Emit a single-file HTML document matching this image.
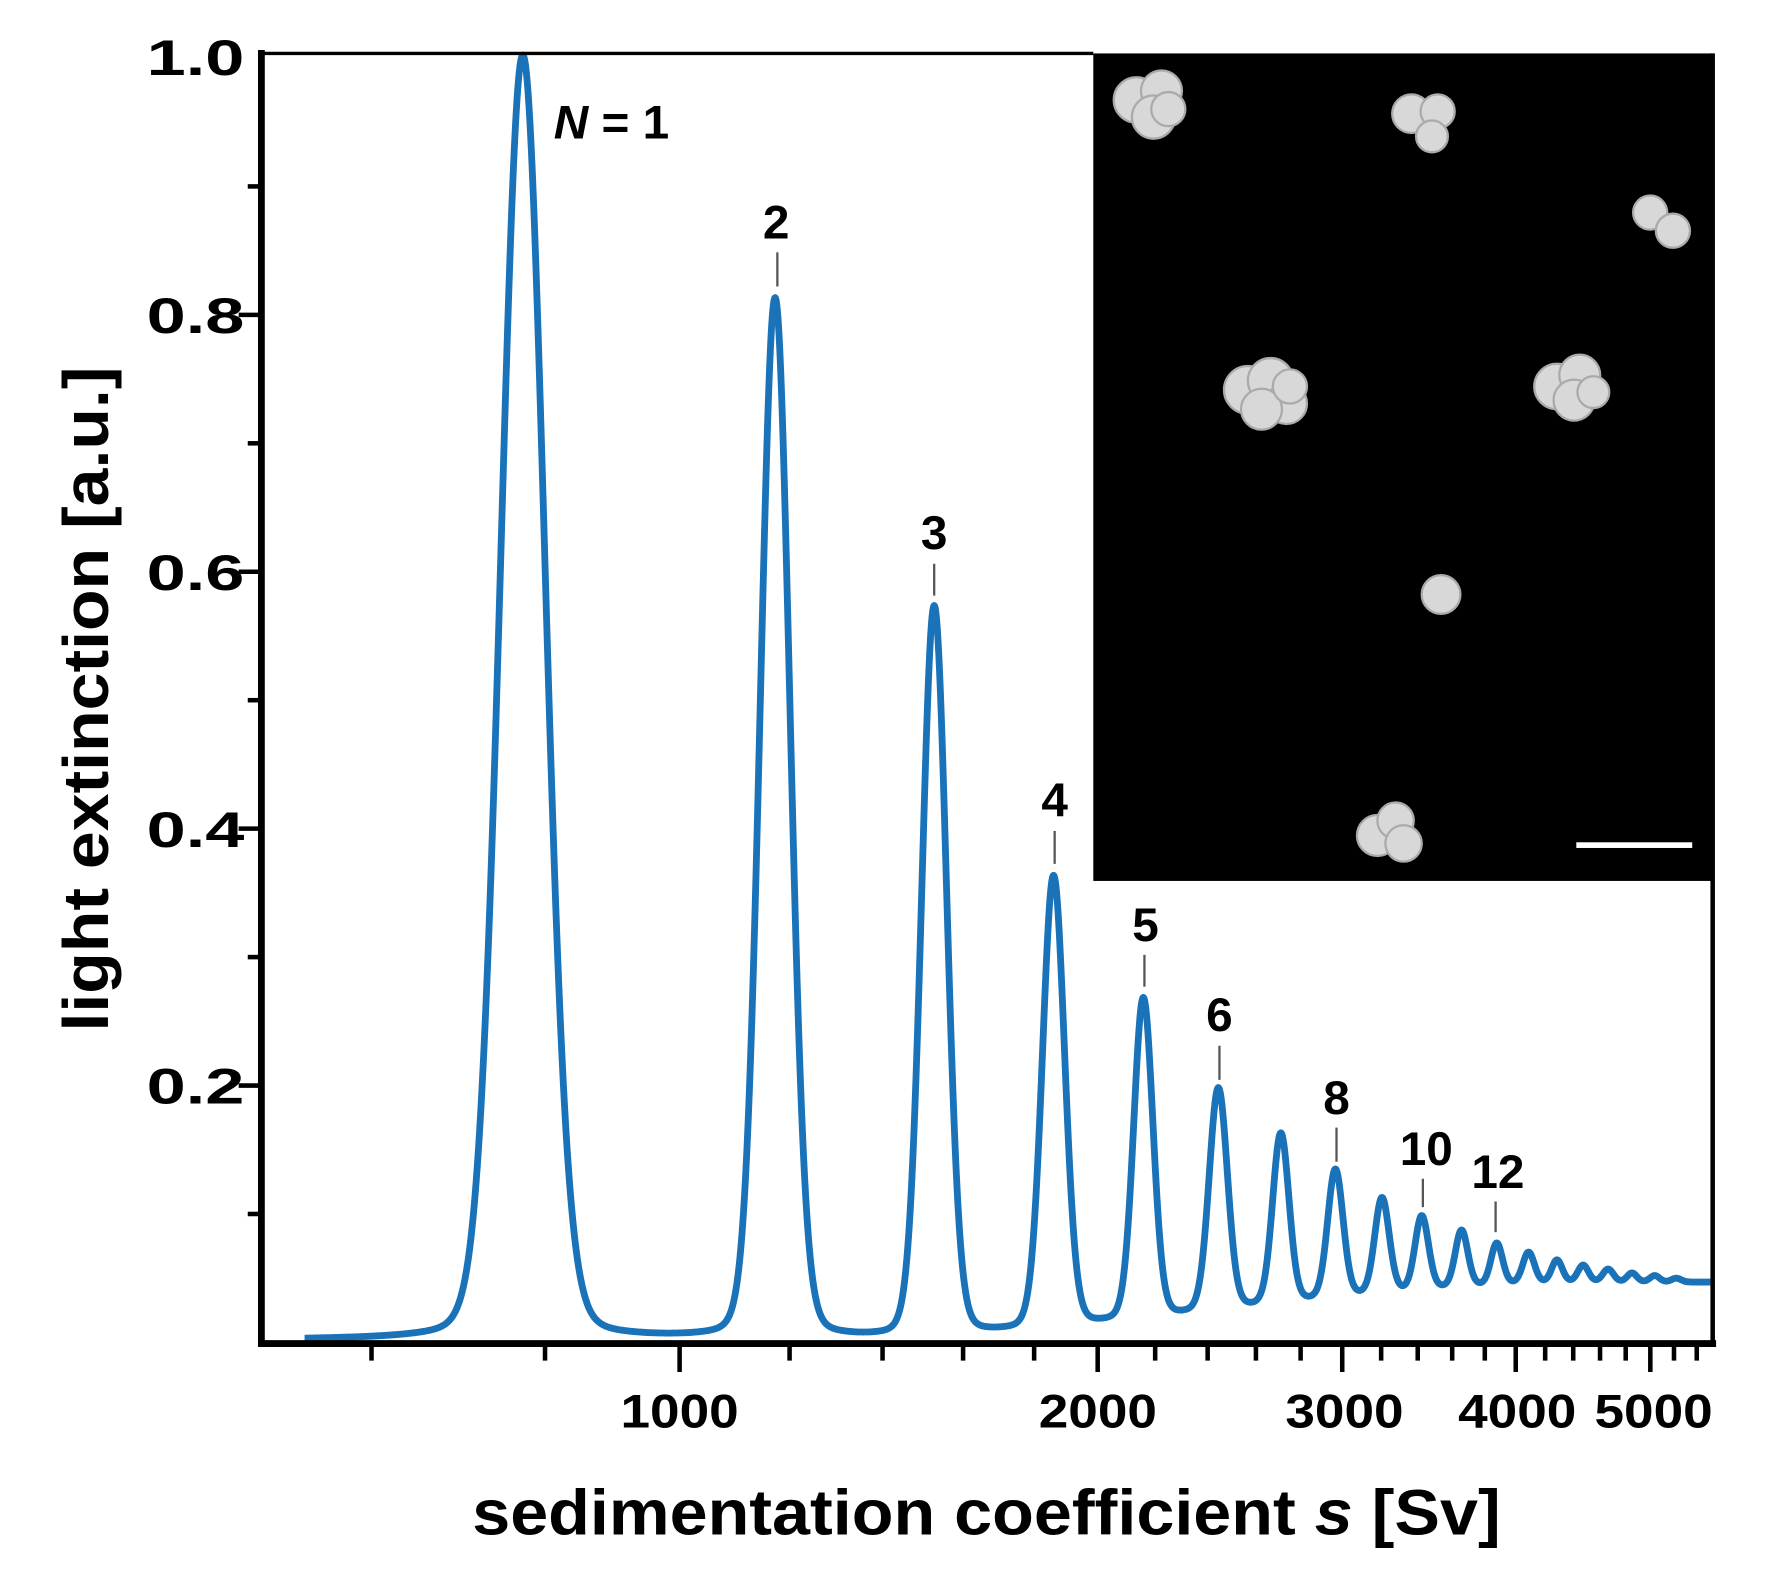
<!DOCTYPE html>
<html><head><meta charset="utf-8"><style>
html,body{margin:0;padding:0;background:#fff;}
svg{display:block;}
text{font-family:"Liberation Sans",Arial,sans-serif;font-weight:bold;fill:#000;}
</style></head><body>
<svg id="s" width="1782" height="1580" viewBox="0 0 1568 1390" preserveAspectRatio="none" xmlns="http://www.w3.org/2000/svg">
<rect width="1568" height="1390" fill="#fff"/>
<rect x="962" y="47" width="545" height="728" fill="#000"/>
<g fill="#d8d8d8" stroke="#aaa" stroke-width="2">
<circle cx="1000" cy="88" r="20"/><circle cx="1022" cy="80" r="18"/><circle cx="1015" cy="103" r="19"/><circle cx="1028" cy="96" r="15"/>
<circle cx="1242" cy="100" r="17"/><circle cx="1265" cy="98" r="15"/><circle cx="1260" cy="120" r="14"/>
<circle cx="1452" cy="187" r="15"/><circle cx="1472" cy="203" r="15"/>
<circle cx="1098" cy="343" r="21"/><circle cx="1118" cy="335" r="20"/><circle cx="1132" cy="355" r="18"/><circle cx="1110" cy="360" r="18"/><circle cx="1135" cy="340" r="15"/>
<circle cx="1370" cy="340" r="20"/><circle cx="1390" cy="330" r="18"/><circle cx="1385" cy="352" r="18"/><circle cx="1402" cy="345" r="14"/>
<circle cx="1268" cy="523" r="17"/>
<circle cx="1212" cy="735" r="18"/><circle cx="1228" cy="722" r="16"/><circle cx="1235" cy="742" r="16"/>
</g>
<rect x="1387" y="741" width="102" height="5" fill="#fff"/>
<path id="c" fill="none" stroke="#1a72b8" stroke-width="6" stroke-linejoin="round"/>
<g stroke="#000" fill="none">
<line x1="230" y1="47" x2="962" y2="47" stroke-width="3"/>
<line x1="1507" y1="47" x2="1507" y2="1183" stroke-width="4"/>
<line x1="230" y1="44" x2="230" y2="1185" stroke-width="6"/>
<line x1="227" y1="1182" x2="1510" y2="1182" stroke-width="6"/>
<g id="yt" stroke-width="4"></g>
<g id="xt" stroke-width="4"></g>
</g>
<g font-size="44" text-anchor="end">
<text x="215" y="66" textLength="86" lengthAdjust="spacingAndGlyphs">1.0</text><text x="215" y="293" textLength="86" lengthAdjust="spacingAndGlyphs">0.8</text><text x="215" y="519" textLength="86" lengthAdjust="spacingAndGlyphs">0.6</text><text x="215" y="745" textLength="86" lengthAdjust="spacingAndGlyphs">0.4</text><text x="215" y="971" textLength="86" lengthAdjust="spacingAndGlyphs">0.2</text>
</g>
<g font-size="42" text-anchor="middle">
<text x="598" y="1256" textLength="104" lengthAdjust="spacingAndGlyphs">1000</text>
<text x="966" y="1256" textLength="104" lengthAdjust="spacingAndGlyphs">2000</text>
<text x="1183" y="1256" textLength="104" lengthAdjust="spacingAndGlyphs">3000</text>
<text x="1335" y="1256" textLength="104" lengthAdjust="spacingAndGlyphs">4000</text>
<text x="1455" y="1256" textLength="104" lengthAdjust="spacingAndGlyphs">5000</text>
</g>
<text x="868" y="1350" font-size="56" text-anchor="middle" textLength="905" lengthAdjust="spacingAndGlyphs">sedimentation coefficient <tspan font-style="italic">s</tspan> [Sv]</text>
<text transform="translate(95,615) rotate(-90)" font-size="56" text-anchor="middle" textLength="585" lengthAdjust="spacingAndGlyphs">light extinction [a.u.]</text>
<g font-size="42" text-anchor="middle">
<text x="538" y="122"><tspan font-style="italic">N</tspan> = 1</text>
<text x="683" y="210">2</text><text x="822" y="483">3</text><text x="928" y="718">4</text><text x="1008" y="828">5</text><text x="1073" y="907">6</text><text x="1176" y="980">8</text><text x="1255" y="1025">10</text><text x="1318" y="1045">12</text>
</g>
<g stroke="#555" stroke-width="2">
<line x1="684" y1="222" x2="684" y2="252"/><line x1="822" y1="496" x2="822" y2="524"/><line x1="928" y1="731" x2="928" y2="760"/><line x1="1007" y1="840" x2="1007" y2="868"/><line x1="1073" y1="920" x2="1073" y2="950"/><line x1="1176" y1="992" x2="1176" y2="1022"/><line x1="1252" y1="1037" x2="1252" y2="1062"/><line x1="1316" y1="1057" x2="1316" y2="1084"/>
</g>
</svg>
<script>
var P=[[460,1.0,23],[682,0.81,15.5],[822,0.57,13],[927,0.36,11.5],[1006,0.265,10],[1072,0.195,9.5],[1127,0.16,8.5],[1175,0.132,8],[1216,0.11,7.5],[1251,0.096,7],[1286,0.085,6.5],[1317,0.075,6],[1345,0.068,6],[1370,0.062,5.5],[1393,0.058,5.5],[1415,0.055,5.5],[1436,0.052,5],[1456,0.05,5],[1475,0.048,5]];
function bg(x){var t=(x-750)/650;t=Math.max(0,Math.min(1,t));return 0.045*t*t*(3-2*t);}
var d="";
for(var x=268;x<=1505;x+=0.5){var b=bg(x),v=b;for(var i=0;i<P.length;i++){var p=P[i],t=(x-p[0])/p[2];var a=p[1]-bg(p[0]);v+=a*(0.9*Math.exp(-0.693*t*t)+0.1/(1+t*t));}
var y=1179-v*1130;d+=(d?"L":"M")+x.toFixed(1)+" "+y.toFixed(1);}
document.getElementById("c").setAttribute("d",d);
var ns="http://www.w3.org/2000/svg";
function ln(g,x1,y1,x2,y2){var l=document.createElementNS(ns,"line");l.setAttribute("x1",x1);l.setAttribute("y1",y1);l.setAttribute("x2",x2);l.setAttribute("y2",y2);g.appendChild(l);}
var yt=document.getElementById("yt");
for(var k=1;k<=9;k++){var y=1181-k*113;ln(yt,k%2==0?210:218,y,230,y);}
var xt=document.getElementById("xt");
for(var s=600;s<=5400;s+=200){var x=598+1222*Math.log10(s/1000);var maj=(s%1000==0);ln(xt,x,1182,x,maj?1207:1197);}
</script>
</body></html>
